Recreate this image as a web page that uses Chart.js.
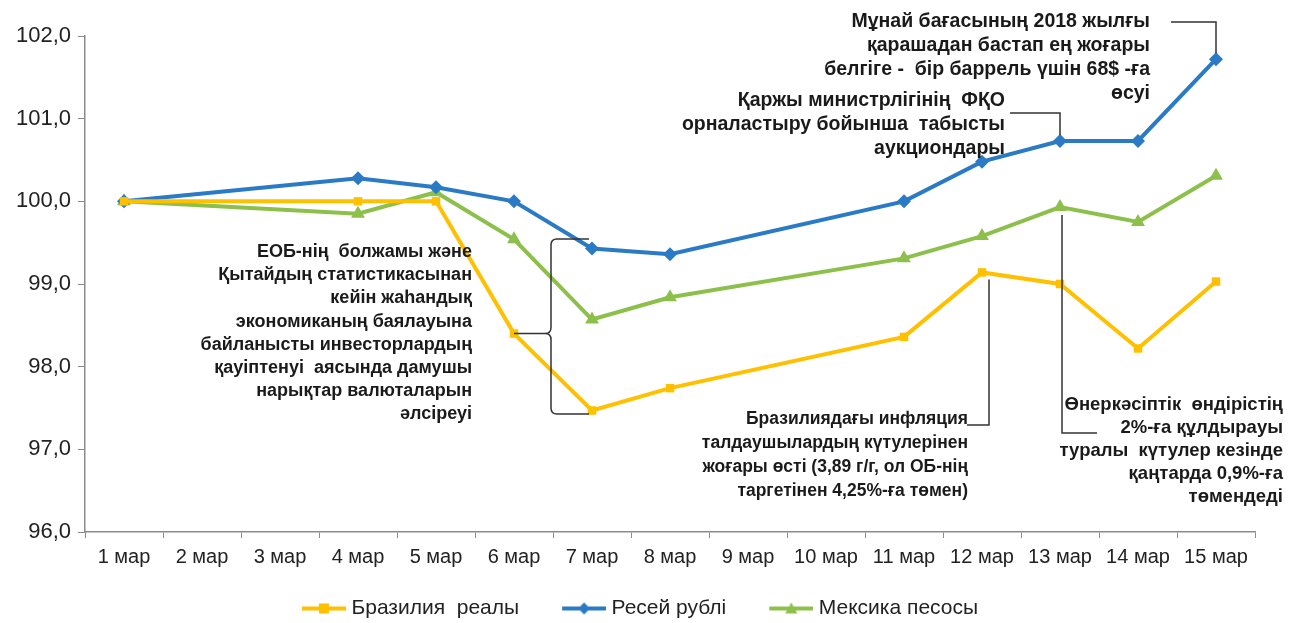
<!DOCTYPE html>
<html>
<head>
<meta charset="utf-8">
<script src="https://cdn.jsdelivr.net/npm/chart.js@4/dist/chart.umd.min.js"></script>
<style>
  body { margin: 0; background: #fff; }
  #wrap { width: 1301px; height: 623px; }
</style>
</head>
<body>
<div id="wrap"><canvas id="chart" width="1301" height="623"></canvas></div>
<script>
// dates (2, 3, 9, 10 мар have no quotes)
const days = ['1 мар','2 мар','3 мар','4 мар','5 мар','6 мар','7 мар','8 мар','9 мар','10 мар','11 мар','12 мар','13 мар','14 мар','15 мар'];
const brl = [100.0, null, null, 100.0, 100.0, 98.40, 97.47, 97.74, null, null, 98.36, 99.14, 99.00, 98.22, 99.03];
const rub = [100.0, null, null, 100.28, 100.17, 100.0, 99.43, 99.36, null, null, 100.0, 100.48, 100.73, 100.73, 101.72];
const mxn = [100.0, null, null, 99.85, 100.11, 99.54, 98.57, 98.84, null, null, 99.31, 99.58, 99.93, 99.75, 100.31];
const seriesNames = ['Бразилия  реалы', 'Ресей рублі', 'Мексика песосы'];
const yTicks = [96, 97, 98, 99, 100, 101, 102];

const cYellow = '#FFC000';
const cBlue = '#2A7AC6';
const cGreen = '#8CC04B';
const textColor = '#1a1a1a';
const axisColor = '#8c8c8c';
const fontFam = '"Liberation Sans", Arial, sans-serif';

// notes
const noteEob = ['ЕОБ-нің  болжамы және', 'Қытайдың статистикасынан', 'кейін жаһандық', 'экономиканың баялауына', 'байланысты инвесторлардың', 'қауіптенуі  аясында дамушы', 'нарықтар валюталарын', 'әлсіреуі'];
const noteBrazil = ['Бразилиядағы инфляция', 'талдаушылардың күтулерінен', 'жоғары өсті (3,89 г/г, ол ОБ-нің', 'таргетінен 4,25%-ға төмен)'];
const noteIndustry = ['Өнеркәсіптік  өндірістің', '2%-ға құлдырауы', 'туралы  күтулер кезінде', 'қаңтарда 0,9%-ға', 'төмендеді'];
const noteOil = ['Мұнай бағасының 2018 жылғы', 'қарашадан бастап ең жоғары', 'белгіге -  бір баррель үшін 68$ -ға', 'өсуі'];
const noteMinfin = ['Қаржы министрлігінің  ФҚО', 'орналастыру бойынша  табысты', 'аукциондары'];

// legend symbol: blank lead-in, then a line with the marker in the middle
function legendIcon(color, style) {
  const c = document.createElement('canvas');
  c.width = 70; c.height = 16;
  const g = c.getContext('2d');
  const x0 = 26, cx = 48;
  g.strokeStyle = color; g.lineWidth = 4;
  g.beginPath(); g.moveTo(x0, 8); g.lineTo(70, 8); g.stroke();
  g.fillStyle = color;
  g.beginPath();
  if (style === 'rect') g.rect(cx - 5, 3, 10, 10);
  else if (style === 'rectRot') { g.moveTo(cx, 2); g.lineTo(cx + 6, 8); g.lineTo(cx, 14); g.lineTo(cx - 6, 8); g.closePath(); }
  else { g.moveTo(cx, 2); g.lineTo(cx + 6, 13); g.lineTo(cx - 6, 13); g.closePath(); }
  g.fill();
  return c;
}

function textBlock(ctx, lines, right, top, lh, size) {
  ctx.font = 'bold ' + size + 'px ' + fontFam;
  ctx.textAlign = 'right';
  ctx.textBaseline = 'middle';
  lines.forEach((l, i) => ctx.fillText(l, right, top + i * lh));
}

const notesPlugin = {
  id: 'notes',
  afterDatasetsDraw(chart) {
    const ctx = chart.ctx;
    const x = chart.scales.x, y = chart.scales.y;
    const pt = (arr, i) => ({ x: x.getPixelForValue(i), y: y.getPixelForValue(arr[i]) });
    ctx.save();
    ctx.strokeStyle = '#333';
    ctx.lineWidth = 1.5;

    // oil
    let p = pt(rub, 14);
    ctx.beginPath(); ctx.moveTo(p.x - 45, 22); ctx.lineTo(p.x, 22); ctx.lineTo(p.x, p.y - 6); ctx.stroke();
    // minfin
    p = pt(rub, 12);
    ctx.beginPath(); ctx.moveTo(p.x - 50, 113); ctx.lineTo(p.x, 113); ctx.lineTo(p.x, p.y - 6); ctx.stroke();
    // brazil inflation
    p = pt(brl, 11);
    ctx.beginPath(); ctx.moveTo(p.x + 7, p.y + 7); ctx.lineTo(p.x + 7, 425); ctx.lineTo(p.x - 15, 425); ctx.stroke();
    // industry
    p = pt(mxn, 12);
    ctx.beginPath(); ctx.moveTo(p.x + 2, p.y + 8); ctx.lineTo(p.x + 2, 433); ctx.lineTo(p.x + 37, 433); ctx.stroke();
    // brace
    p = pt(brl, 5);
    const bx = 551, top = 239, bot = 414, mid = p.y;
    ctx.beginPath();
    ctx.moveTo(589, top); ctx.lineTo(bx + 6, top);
    ctx.quadraticCurveTo(bx, top, bx, top + 6);
    ctx.lineTo(bx, mid - 6);
    ctx.quadraticCurveTo(bx, mid, bx - 6, mid);
    ctx.quadraticCurveTo(bx, mid, bx, mid + 6);
    ctx.lineTo(bx, bot - 6);
    ctx.quadraticCurveTo(bx, bot, bx + 6, bot);
    ctx.lineTo(589, bot);
    ctx.moveTo(bx - 6, mid); ctx.lineTo(p.x, mid);
    ctx.stroke();

    ctx.fillStyle = textColor;
    textBlock(ctx, noteEob, 472, 252, 23.2, 18);
    textBlock(ctx, noteBrazil, 968, 419, 24, 17.5);
    textBlock(ctx, noteIndustry, 1283, 405, 23, 18.5);
    textBlock(ctx, noteOil, 1150, 22, 24, 19.5);
    textBlock(ctx, noteMinfin, 1005, 101, 24, 19.5);
    ctx.restore();
  }
};

const styles = [['rect', cYellow], ['rectRot', cBlue], ['triangle', cGreen]];

new Chart(document.getElementById('chart'), {
  type: 'line',
  data: {
    labels: days,
    datasets: [
      { label: seriesNames[0], data: brl, borderColor: cYellow, backgroundColor: cYellow, pointStyle: 'rect', pointRadius: 6 },
      { label: seriesNames[1], data: rub, borderColor: cBlue, backgroundColor: cBlue, pointStyle: 'rectRot', pointRadius: 7 },
      { label: seriesNames[2], data: mxn, borderColor: cGreen, backgroundColor: cGreen, pointStyle: 'triangle', pointRadius: 8 }
    ].map(d => Object.assign(d, { borderWidth: 4, spanGaps: true, tension: 0, pointBorderWidth: 0, pointHoverRadius: 7 }))
  },
  options: {
    responsive: false,
    animation: false,
    layout: { padding: { left: 4, right: 46, top: 36, bottom: -6 } },
    plugins: {
      tooltip: { enabled: false },
      legend: {
        position: 'bottom',
        labels: {
          usePointStyle: true,
          pointStyleWidth: 60,
          padding: 22,
          color: '#222',
          font: { family: fontFam, size: 21 },
          generateLabels(chart) {
            return chart.data.datasets.map((d, i) => ({
              text: d.label, datasetIndex: i, hidden: false,
              pointStyle: legendIcon(styles[i][1], styles[i][0]),
              fillStyle: styles[i][1], strokeStyle: styles[i][1], lineWidth: 0,
              fontColor: '#222'
            }));
          }
        }
      }
    },
    scales: {
      x: {
        offset: true,
        grid: { offset: true, drawOnChartArea: false, drawTicks: true, tickLength: 6, color: axisColor },
        border: { color: axisColor, width: 1.5 },
        ticks: { color: '#222', padding: 7, maxRotation: 0, autoSkip: false, font: { family: fontFam, size: 20 } }
      },
      y: {
        min: 96, max: 102,
        afterBuildTicks(s) { s.ticks = yTicks.map(v => ({ value: v })); },
        afterFit(s) { s.width = 81; },
        grid: { drawOnChartArea: false, drawTicks: true, tickLength: 7, color: axisColor },
        border: { color: axisColor, width: 1.5 },
        ticks: {
          color: '#222', padding: 7,
          font: { family: fontFam, size: 22 },
          callback: v => v.toFixed(1).replace('.', ',')
        }
      }
    }
  },
  plugins: [notesPlugin]
});
</script>
</body>
</html>
